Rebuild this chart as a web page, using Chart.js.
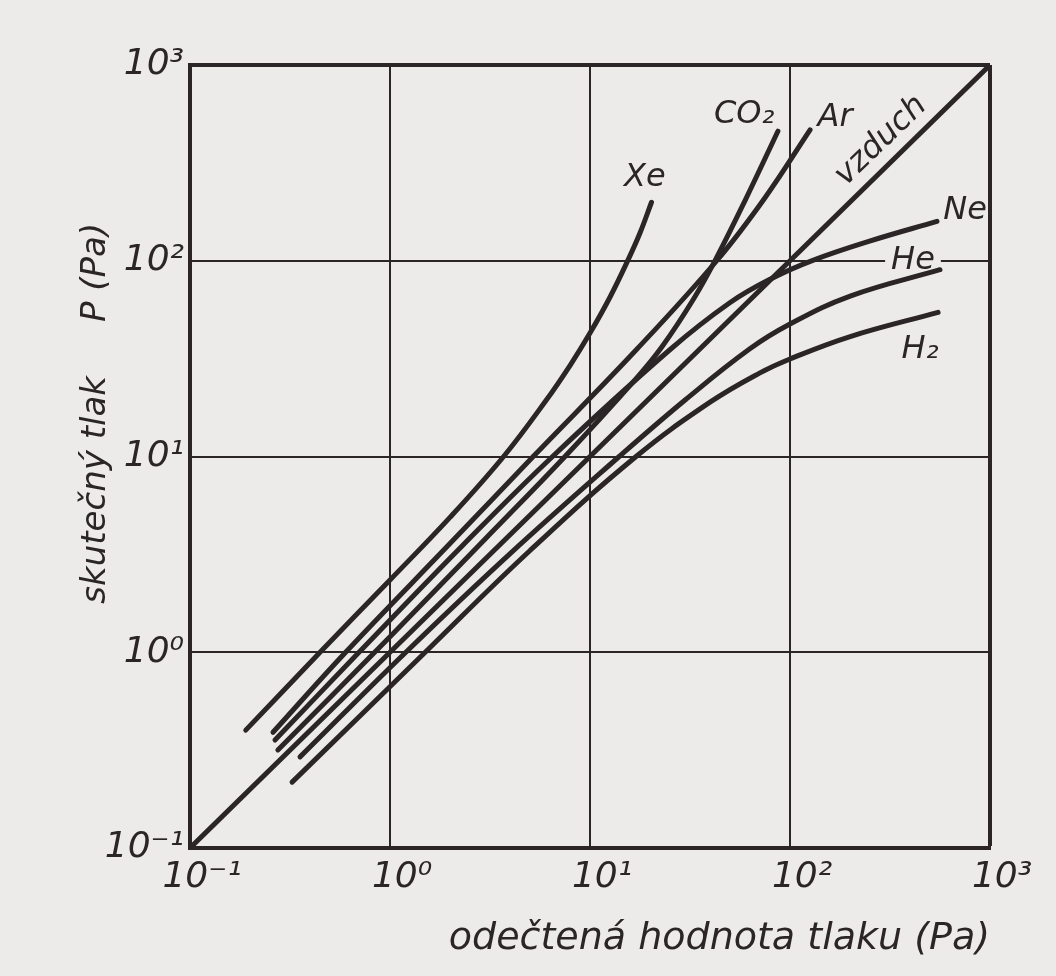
<!DOCTYPE html>
<html>
<head>
<meta charset="utf-8">
<script src="https://cdn.jsdelivr.net/npm/chart.js@4.4.1/dist/chart.umd.min.js"></script>
<style>
  html, body { margin: 0; padding: 0; background: #ecebe9; }
  canvas { display: block; }
</style>
</head>
<body>
<canvas id="chart" width="1056" height="976"></canvas>
<script>
"use strict";

// decade ticks on both axes
const axisTicks = [0.1, 1, 10, 100, 1000];
const tickLabels = ['10⁻¹', '10⁰', '10¹', '10²', '10³'];

// odečtená hodnota (x) vs skutečný tlak (y), Pa
const vzduchX = [0.1, 1000];
const vzduchY = [0.1, 1000];
const xeX = [0.19, 0.447, 1, 2, 3.7, 6, 8, 10, 12.6, 15.5, 17.8, 20.3];
const xeY = [0.4, 1, 2.34, 4.9, 10, 19.2, 29.5, 42.7, 65.3, 101, 139, 199];
const arX = [0.26, 0.6, 2, 5.2, 17, 43, 75, 126];
const arY = [0.39, 1, 3.6, 10, 35, 100, 210, 466];
const co2X = [0.275, 1, 3, 7.5, 17, 23, 33, 43, 60, 87];
const co2Y = [0.317, 1.2, 3.8, 10, 25, 36.6, 64, 104, 206, 459];
const neX = [0.266, 0.7, 2.3, 6.5, 25, 50, 80, 130, 250, 543];
const neY = [0.356, 1, 3.5, 10, 35, 61, 80.7, 100.5, 126, 159];
const heX = [0.355, 1.2, 4, 14, 30, 63, 100, 200, 562];
const heY = [0.292, 1, 3.2, 10, 19.5, 35.5, 47.5, 66, 90];
const h2X = [0.324, 1.5, 5, 17, 40, 70, 100, 200, 550];
const h2Y = [0.217, 1, 3.3, 10, 19, 26.6, 31.5, 41, 54.5];

const INK = '#2b2527';
const PAPER = '#ecebe9';
const FONT = '"DejaVu Sans", sans-serif';

function pts(xs, ys) {
  return xs.map((x, i) => ({ x: x, y: ys[i] }));
}

function curve(label, xs, ys) {
  return {
    label: label,
    data: pts(xs, ys),
    showLine: true,
    borderColor: INK,
    borderWidth: 5,
    borderCapStyle: 'round',
    borderJoinStyle: 'round',
    pointRadius: 0,
    tension: 0.4,
    fill: false
  };
}

// gas names written next to the curve ends
const gasLabels = [
  { text: 'Xe', x: 18.8, y: 265 },
  { text: 'CO₂', x: 59, y: 560 },
  { text: 'Ar', x: 168, y: 536 },
  { text: 'vzduch', x: 285, y: 410, rot: -44 },
  { text: 'Ne', x: 750, y: 181 },
  { text: 'He', x: 412, y: 100, gap: true },
  { text: 'H₂', x: 447, y: 35 }
];

const labelPlugin = {
  id: 'gasLabels',
  afterDatasetsDraw(chart) {
    const ctx = chart.ctx;
    const xs = chart.scales.x, ys = chart.scales.y;
    ctx.save();
    ctx.font = 'italic 32px ' + FONT;
    ctx.textAlign = 'center';
    ctx.textBaseline = 'middle';
    gasLabels.forEach(l => {
      const px = xs.getPixelForValue(l.x);
      const py = ys.getPixelForValue(l.y);
      if (l.gap) {
        const w = ctx.measureText(l.text).width;
        ctx.fillStyle = PAPER;
        ctx.fillRect(px - w / 2 - 6, py - 6, w + 12, 12);
      }
      ctx.fillStyle = INK;
      ctx.save();
      ctx.translate(px, py);
      if (l.rot) ctx.rotate(l.rot * Math.PI / 180);
      ctx.fillText(l.text, 0, 0);
      ctx.restore();
    });
    ctx.restore();
  }
};

function logAxis(titleText, isX) {
  return {
    type: 'logarithmic',
    min: 0.1,
    max: 1000,
    afterBuildTicks(scale) {
      scale.ticks = axisTicks.map(v => ({ value: v }));
    },
    afterFit(scale) {
      if (isX) scale.height = 128;
      else scale.width = 190;
    },
    border: { display: true, color: INK, width: 4 },
    grid: {
      color: INK,
      drawTicks: false,
      lineWidth: c => (c.tick && c.tick.value === 1000) ? 4 : 2
    },
    ticks: {
      autoSkip: false,
      maxRotation: 0,
      color: INK,
      font: { family: FONT, size: 36, style: 'italic' },
      padding: isX ? 8 : 6,
      labelOffset: isX ? 12 : 0,
      callback: v => tickLabels[axisTicks.indexOf(v)]
    },
    title: {
      display: true,
      text: titleText,
      color: INK,
      align: isX ? 'end' : 'center',
      font: { family: FONT, size: isX ? 38 : 34, style: 'italic' },
      padding: isX ? { top: 0, bottom: 14 } : { top: 76, bottom: 0 }
    }
  };
}

new Chart(document.getElementById('chart'), {
  type: 'scatter',
  data: {
    datasets: [
      curve('vzduch', vzduchX, vzduchY),
      curve('Xe', xeX, xeY),
      curve('Ar', arX, arY),
      curve('CO2', co2X, co2Y),
      curve('Ne', neX, neY),
      curve('He', heX, heY),
      curve('H2', h2X, h2Y)
    ]
  },
  options: {
    responsive: false,
    animation: false,
    layout: { padding: { left: 0, right: 66, top: 65, bottom: 0 } },
    plugins: {
      legend: { display: false },
      tooltip: { enabled: false }
    },
    scales: {
      x: logAxis('odečtená hodnota tlaku (Pa)', true),
      // leading spaces push the rotated title up, as in the original
      y: logAxis('        skutečný tlak     P (Pa)', false)
    }
  },
  plugins: [labelPlugin]
});
</script>
</body>
</html>
